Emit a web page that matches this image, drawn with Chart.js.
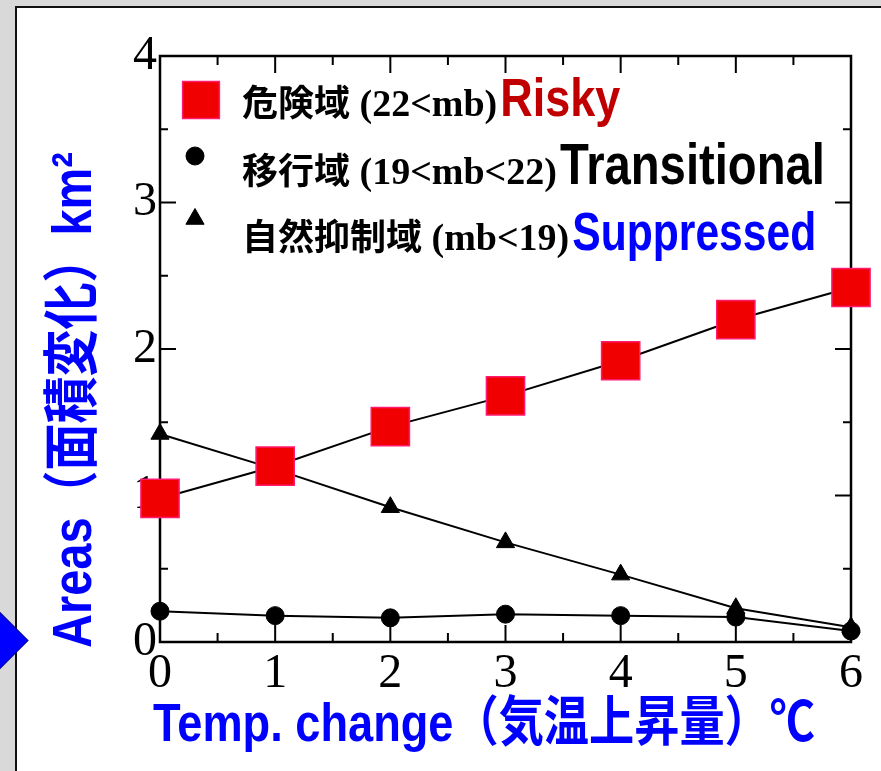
<!DOCTYPE html>
<html>
<head>
<meta charset="utf-8">
<script src="https://cdn.jsdelivr.net/npm/chart.js@4.4.1/dist/chart.umd.min.js"></script>
<style>
  html, body { margin: 0; padding: 0; background: #d9d9d9; overflow: hidden; }
  #panel { position: absolute; left: 15px; top: 6px; width: 864px; height: 763px; background: #fff;
           border-left: 2px solid #111; border-top: 2px solid #111; }
  #chart { position: absolute; left: 0; top: 0; }
  #arrow { position: absolute; left: -28px; top: 617px; width: 47px; height: 47px; box-sizing: border-box;
           background: #0000ff; border: 1px solid #00008b; transform: rotate(45deg); }
</style>
</head>
<body>
<div id="panel"></div>
<canvas id="chart" width="881" height="771"></canvas>
<div id="arrow"></div>
<script>
  // temperature rise (℃) and area change (km²) per zone
  const tempChange = [0, 1, 2, 3, 4, 5, 6];
  const riskyArea = [0.98, 1.20, 1.47, 1.68, 1.92, 2.20, 2.42];
  const transitionalArea = [0.21, 0.18, 0.165, 0.19, 0.18, 0.17, 0.075];
  const suppressedArea = [1.42, 1.18, 0.92, 0.68, 0.46, 0.23, 0.10];

  const legendNames = ['危険域', '移行域', '自然抑制域'];
  const legendRanges = ['(22<mb)', '(19<mb<22)', '(mb<19)'];
  const legendWords = ['Risky', 'Transitional', 'Suppressed'];
  const legendWordColors = ['#c00000', '#000000', '#0000ff'];

  const xTitle = 'Temp. change（気温上昇量）℃';
  const yTitle = 'Areas（面積変化）km²';

  const sansBold = '"Liberation Sans", Arial, "Noto Sans CJK JP", sans-serif';
  const cjkFont = '"Noto Sans CJK JP", sans-serif';
  const serifFont = '"Liberation Serif", "Times New Roman", serif';

  function toPoints(values) {
    return tempChange.map((t, i) => ({ x: t, y: values[i] }));
  }

  // draw text squeezed to a given width (the original uses a condensed face)
  function drawFitted(ctx, text, x, y, width, font, color) {
    ctx.save();
    ctx.font = font;
    const w = ctx.measureText(text).width;
    ctx.translate(x, y);
    ctx.scale(width / w, 1);
    ctx.fillStyle = color;
    ctx.textAlign = 'left';
    ctx.textBaseline = 'alphabetic';
    ctx.fillText(text, 0, 0);
    ctx.restore();
  }

  const frameTicks = {
    id: 'frameTicks',
    beforeDatasetsDraw(chart) {
      const { ctx, chartArea: a, scales: { x, y } } = chart;
      ctx.save();
      ctx.strokeStyle = '#000';
      ctx.lineWidth = 2;
      ctx.beginPath();
      for (let v = x.min; v <= x.max; v += 0.5) {
        const px = x.getPixelForValue(v);
        const len = v % 1 === 0 ? 17 : 9;
        ctx.moveTo(px, a.bottom); ctx.lineTo(px, a.bottom - len);
        ctx.moveTo(px, a.top); ctx.lineTo(px, a.top + len);
      }
      for (let v = y.min; v <= y.max; v += 0.5) {
        const py = y.getPixelForValue(v);
        const len = v % 1 === 0 ? 16 : 8;
        ctx.moveTo(a.left, py); ctx.lineTo(a.left + len, py);
        ctx.moveTo(a.right, py); ctx.lineTo(a.right - len, py);
      }
      ctx.stroke();
      ctx.lineWidth = 2.5;
      ctx.strokeRect(a.left, a.top, a.right - a.left, a.bottom - a.top);
      ctx.restore();
    }
  };

  const axisTitles = {
    id: 'axisTitles',
    afterDraw(chart) {
      const ctx = chart.ctx;
      drawFitted(ctx, xTitle, 153, 741, 662, 'bold 54px ' + sansBold, '#0000ff');
      ctx.save();
      ctx.translate(91, 648);
      ctx.rotate(-Math.PI / 2);
      drawFitted(ctx, yTitle, 0, 0, 496, 'bold 56px ' + sansBold, '#0000ff');
      ctx.restore();
    }
  };

  const legendBox = {
    id: 'legendBox',
    afterDraw(chart) {
      const ctx = chart.ctx;
      const markerY = [100, 156, 219];
      const markerX = [201, 195, 195];
      const baseY = [116, 184, 250];
      const wordWidth = [120, 265, 244];
      chart.data.datasets.forEach((ds, i) => {
        ctx.save();
        ctx.fillStyle = ds.pointBackgroundColor;
        ctx.strokeStyle = ds.pointBorderColor;
        ctx.lineWidth = ds.pointBorderWidth;
        Chart.helpers.drawPoint(ctx, {
          pointStyle: ds.pointStyle,
          radius: ds.pointStyle === 'rect' ? 26 : ds.pointRadius,
          rotation: 0,
          borderWidth: ds.pointBorderWidth
        }, markerX[i], markerY[i]);
        ctx.restore();

        ctx.save();
        ctx.fillStyle = '#000';
        ctx.textBaseline = 'alphabetic';
        ctx.font = 'bold 36px ' + cjkFont;
        ctx.fillText(legendNames[i], 242, baseY[i]);
        let cx = 242 + ctx.measureText(legendNames[i]).width;
        ctx.font = 'bold 38px ' + serifFont;
        cx += ctx.measureText(' ').width;
        ctx.fillText(legendRanges[i], cx, baseY[i]);
        cx += ctx.measureText(legendRanges[i]).width + 3;
        ctx.restore();
        drawFitted(ctx, legendWords[i], cx, baseY[i], wordWidth[i],
                   'bold ' + (i === 1 ? 58 : 54) + 'px ' + sansBold, legendWordColors[i]);
      });
    }
  };

  const lineStyle = { showLine: true, borderColor: '#000', borderWidth: 2, tension: 0, clip: false };

  new Chart(document.getElementById('chart'), {
    type: 'scatter',
    data: {
      datasets: [
        Object.assign({ label: 'Risky', data: toPoints(riskyArea), pointStyle: 'rect', pointRadius: 27,
          pointBackgroundColor: '#f00000', pointBorderColor: '#ff1a70', pointBorderWidth: 1.5 }, lineStyle),
        Object.assign({ label: 'Transitional', data: toPoints(transitionalArea), pointStyle: 'circle', pointRadius: 9,
          pointBackgroundColor: '#000', pointBorderColor: '#000', pointBorderWidth: 1 }, lineStyle),
        Object.assign({ label: 'Suppressed', data: toPoints(suppressedArea), pointStyle: 'triangle', pointRadius: 10.5,
          pointBackgroundColor: '#000', pointBorderColor: '#000', pointBorderWidth: 1 }, lineStyle)
      ]
    },
    options: {
      responsive: false,
      animation: false,
      events: [],
      devicePixelRatio: 1,
      layout: { padding: { left: 100, top: 56, right: 30, bottom: 69 } },
      plugins: { legend: { display: false }, tooltip: { enabled: false } },
      scales: {
        x: {
          type: 'linear', min: 0, max: 6,
          afterFit(scale) { scale.height = 60; },
          ticks: { stepSize: 1, padding: 4, color: '#000', font: { family: serifFont, size: 48 } },
          grid: { display: false, drawTicks: false },
          border: { display: false }
        },
        y: {
          type: 'linear', min: 0, max: 4,
          afterFit(scale) { scale.width = 60; },
          ticks: { stepSize: 1, padding: 3, color: '#000', font: { family: serifFont, size: 48 } },
          grid: { display: false, drawTicks: false },
          border: { display: false }
        }
      }
    },
    plugins: [frameTicks, axisTitles, legendBox]
  });
</script>
</body>
</html>
